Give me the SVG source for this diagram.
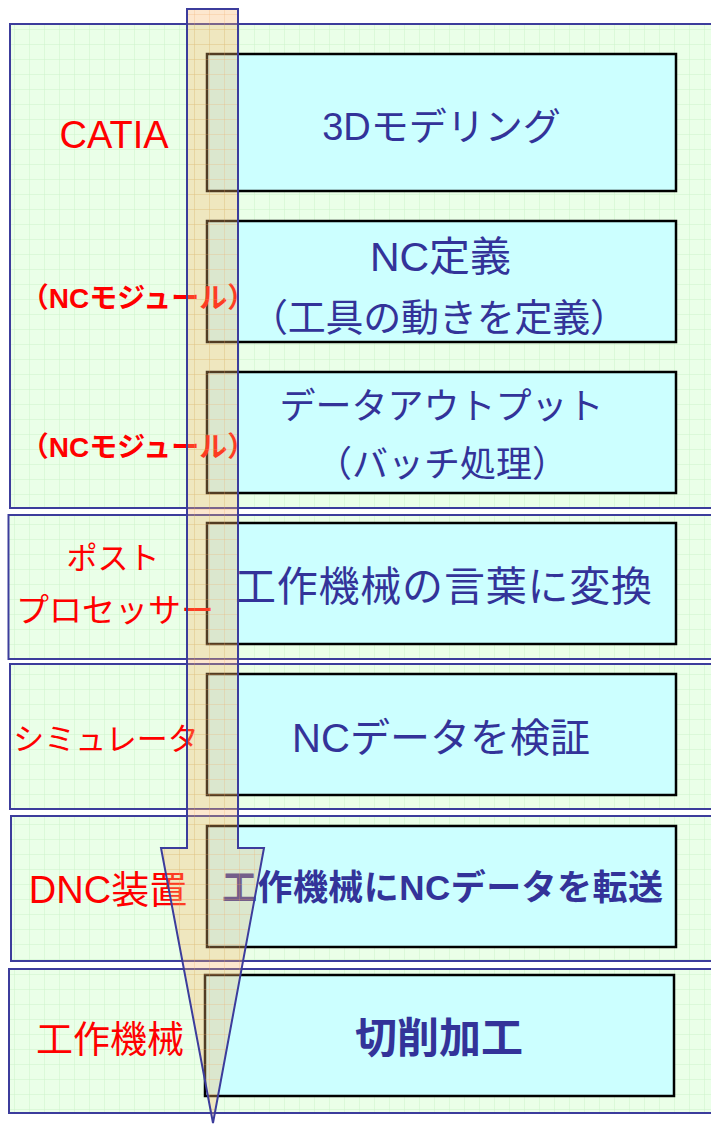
<svg xmlns="http://www.w3.org/2000/svg" width="711" height="1125" viewBox="0 0 711 1125">
<defs>
<pattern id="greenGrid" x="0" y="0" width="15" height="15" patternUnits="userSpaceOnUse">
<rect width="15" height="15" fill="#eaffe8"/>
<path d="M15 0V15M0 15H15" stroke="#cdf3cb" stroke-width="1" fill="none"/>
</pattern>
<pattern id="orangeGrid" x="0" y="0" width="15" height="15" patternUnits="userSpaceOnUse">
<rect width="15" height="15" fill="#f7b56a" fill-opacity="0.33"/>
<path d="M15 0V15M0 15H15" stroke="#f5a860" stroke-opacity="0.45" stroke-width="1" fill="none"/>
</pattern>
<style>
.panel{fill:url(#greenGrid);stroke:#3c3c9c;stroke-width:2}
.box{fill:#ccffff;stroke:#000;stroke-width:2.5}
.bt{font-family:"Liberation Sans","Noto Sans CJK JP",sans-serif;fill:#333399;text-anchor:middle}
.lb{font-family:"Liberation Sans","Noto Sans CJK JP",sans-serif;fill:#ff0000;text-anchor:middle}
.arrow{fill:url(#orangeGrid);stroke:#3c3c9c;stroke-width:2;stroke-linejoin:miter}
</style>
</defs>
<rect width="711" height="1125" fill="#ffffff"/>
<g id="panel-backgrounds">
<rect id="panel-catia-bg" class="panel" x="10" y="24" width="720" height="484"/>
<rect id="panel-post-bg" class="panel" x="8.5" y="515" width="720" height="144"/>
<rect id="panel-sim-bg" class="panel" x="10" y="664" width="720" height="145"/>
<rect id="panel-dnc-bg" class="panel" x="11" y="816" width="720" height="145"/>
<rect id="panel-machine-bg" class="panel" x="9" y="969" width="720" height="144"/>
</g>
<g id="box-modeling">
<rect class="box" x="207" y="54" width="469" height="137"/>
<text class="bt" x="441.5" y="140" font-size="38">3Dモデリング</text>
</g>
<g id="box-nc-def">
<rect class="box" x="207" y="221" width="469" height="121"/>
<text class="bt" x="440.5" y="271" font-size="41">NC定義</text>
<text class="bt" x="439" y="331" font-size="38" textLength="378">（工具の動きを定義）</text>
</g>
<g id="box-output">
<rect class="box" x="207" y="372" width="469" height="121"/>
<text class="bt" x="441.5" y="419" font-size="36">データアウトプット</text>
<text class="bt" x="442" y="477" font-size="36">（バッチ処理）</text>
</g>
<g id="box-convert">
<rect class="box" x="207" y="523" width="469" height="121"/>
<text class="bt" x="443.5" y="601" font-size="41" textLength="417">工作機械の言葉に変換</text>
</g>
<g id="box-verify">
<rect class="box" x="207" y="674" width="469" height="121"/>
<text class="bt" x="441" y="752" font-size="40">NCデータを検証</text>
</g>
<g id="box-transfer">
<rect class="box" x="207" y="826" width="469" height="121"/>
<text class="bt" x="442.5" y="900" font-size="35" font-weight="bold" textLength="441">工作機械にNCデータを転送</text>
</g>
<g id="box-cutting">
<rect class="box" x="205" y="975" width="469" height="121"/>
<text class="bt" x="439" y="1053" font-size="42" font-weight="bold">切削加工</text>
</g>
<g id="panel-catia">
<text class="lb" x="114" y="148" font-size="38">CATIA</text>
<text class="lb" x="138" y="308" font-size="28" font-weight="bold">（NCモジュール）</text>
<text class="lb" x="138" y="457" font-size="28" font-weight="bold">（NCモジュール）</text>
</g>
<g id="panel-post">
<text class="lb" x="113" y="569" font-size="31">ポスト</text>
<text class="lb" x="115" y="622" font-size="33">プロセッサー</text>
</g>
<g id="panel-sim">
<text class="lb" x="106" y="750" font-size="31">シミュレータ</text>
</g>
<g id="panel-dnc">
<text class="lb" x="108" y="903" font-size="38">DNC装置</text>
</g>
<g id="panel-machine">
<text class="lb" x="110" y="1053" font-size="37">工作機械</text>
</g>
<g id="connectors">
<polygon id="flow-arrow" class="arrow" points="187,9 238,9 238,848 264,848 213,1123 161,848 187,848"/>
</g>
</svg>
